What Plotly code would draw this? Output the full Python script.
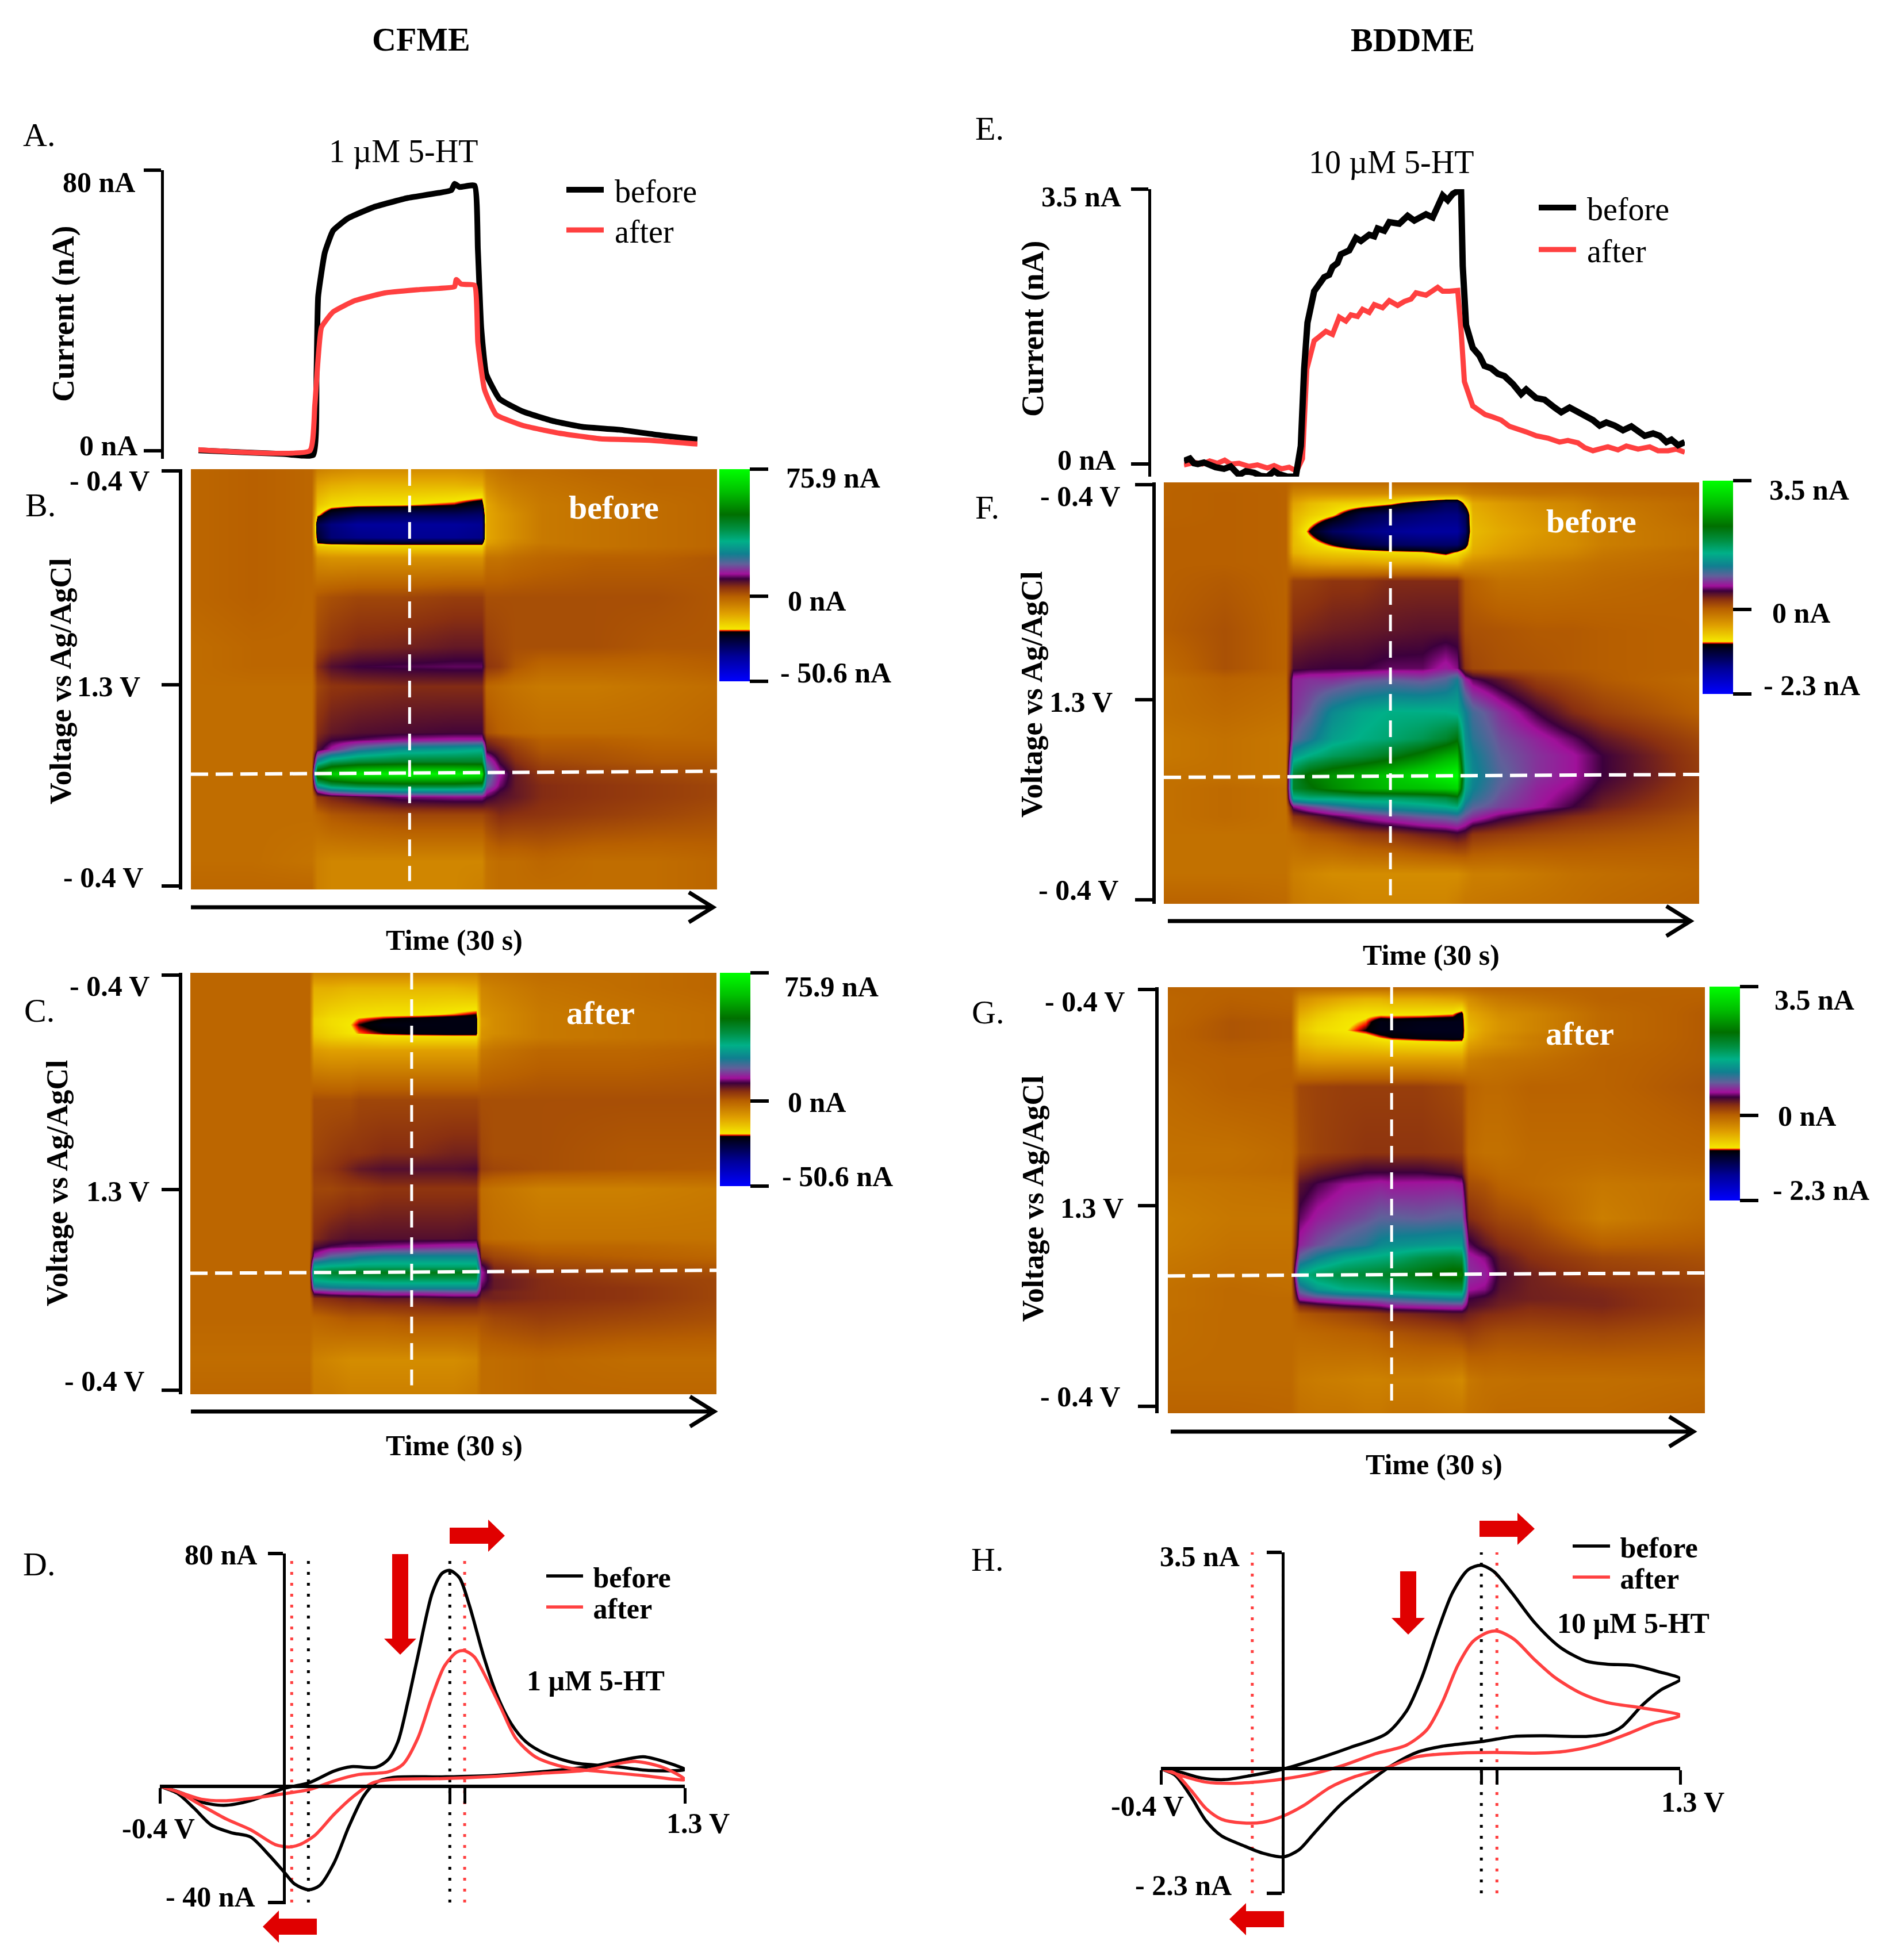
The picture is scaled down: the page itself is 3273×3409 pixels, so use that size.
import plotly.graph_objects as go

W = 3273
H = 3409
PAGE_MARGIN = 8  # the browser's default body margin moves the figure by this much
SERIF = "Liberation Serif"
RED = "#ff4040"
ARROW_RED = "#e00000"

# colour table of the false colour plots, black to green through orange
cv_colors = [
    [0.0, "#0000ff"], [0.118, "#000098"], [0.21, "#000024"], [0.233, "#000000"],
    [0.239, "#ff1000"], [0.245, "#f5e800"], [0.32, "#e0a000"], [0.4, "#b86000"],
    [0.444, "#8a3010"], [0.483, "#3c003c"], [0.506, "#a0109a"], [0.553, "#60609a"],
    [0.6, "#107f90"], [0.66, "#00b088"], [0.72, "#008f40"], [0.786, "#006f00"],
    [0.894, "#00c000"], [1.0, "#00ff00"],
]

# A. CFME current vs time
a_time_before = [0, 2.5, 5.1, 6.9, 7.1, 7.2, 7.6, 8.1, 9.0, 10.5, 12.6, 15.2, 15.4, 15.7, 16.6, 16.8, 17.0, 17.3, 18.1, 19.5, 21.3, 23.1, 25.3, 27.8, 30]
a_before = [0.1, -0.4, -0.9, -1.2, 21.9, 44, 56.5, 62.8, 66.3, 69.4, 72.1, 74.3, 76.1, 75.2, 75.6, 57.4, 35.2, 21.9, 14.8, 11.2, 8.5, 6.8, 6, 4.4, 3.2]
a_time_after = [0, 6.7, 7.0, 7.4, 8.1, 9.4, 11.2, 13.4, 15.4, 15.5, 15.8, 16.6, 16.8, 17.2, 17.9, 19.5, 21.7, 24.2, 27.1, 30]
a_after = [0.3, 0, 13, 35.2, 39.6, 42.8, 45, 46, 46.8, 48.8, 47.5, 47.2, 30.8, 17.4, 10.3, 7.2, 5, 3.4, 3, 1.9]

# E. BDDME current vs time
e_time_before = [0, 0.36, 0.6, 0.83, 1.2, 1.5, 1.9, 2.4, 2.8, 3.3, 3.7, 4.2, 4.6, 5, 5.4, 5.7, 6.2, 6.7, 7.0, 7.2, 7.4, 7.8, 8.4, 8.7, 8.9, 9.2, 9.4, 9.9, 10.3, 10.6, 11.1, 11.4, 11.6, 12.0, 12.3, 12.9, 13.4, 13.8, 14.5, 14.9, 15.2, 15.5, 15.8, 16.1, 16.6, 16.7, 16.9, 17.3, 17.7, 18, 18.4, 18.8, 19.2, 19.7, 20.2, 20.5, 21.1, 21.6, 22.2, 22.6, 23.1, 23.6, 24, 24.5, 24.9, 25.3, 25.8, 26.3, 26.8, 27.2, 27.6, 28.1, 28.5, 28.9, 29.2, 29.6, 30]
e_before = [0.04, 0.07, 0.01, 0.0, 0.02, -0.01, -0.04, -0.06, -0.03, -0.14, -0.09, -0.11, -0.15, -0.16, -0.09, -0.13, -0.16, -0.16, 0.23, 1.21, 1.8, 2.2, 2.38, 2.41, 2.51, 2.56, 2.67, 2.72, 2.88, 2.84, 2.92, 2.9, 3.0, 2.97, 3.08, 3.06, 3.16, 3.1, 3.18, 3.14, 3.28, 3.42, 3.36, 3.44, 3.5, 2.52, 1.77, 1.48, 1.38, 1.25, 1.22, 1.15, 1.12, 1.02, 0.89, 0.95, 0.84, 0.82, 0.72, 0.66, 0.72, 0.66, 0.63, 0.56, 0.49, 0.53, 0.49, 0.43, 0.48, 0.41, 0.36, 0.39, 0.36, 0.28, 0.31, 0.24, 0.28]
e_time_after = [0, 0.65, 1.1, 1.54, 2.0, 2.44, 2.8, 3.3, 3.9, 4.4, 5, 5.4, 5.85, 6.3, 6.75, 7.1, 7.36, 7.8, 8.5, 8.9, 9.3, 9.7, 10, 10.4, 10.7, 11.1, 11.4, 11.9, 12.3, 12.8, 13.2, 13.6, 13.9, 14.5, 15.2, 15.5, 15.9, 16.4, 16.6, 16.8, 17.3, 17.7, 18.05, 18.5, 19, 19.5, 20, 20.5, 21.1, 21.8, 22.5, 23, 23.6, 24, 24.5, 25, 25.4, 26, 26.5, 27.2, 27.9, 28.4, 29, 29.5, 30]
e_after = [-0.01, 0.02, 0.0, 0.04, 0.01, 0.05, 0.0, 0.01, -0.03, -0.01, -0.05, -0.02, -0.06, -0.04, -0.09, 0.07, 1.21, 1.57, 1.69, 1.65, 1.87, 1.82, 1.9, 1.88, 1.97, 1.93, 2.03, 1.99, 2.08, 2.02, 2.07, 2.1, 2.18, 2.15, 2.25, 2.2, 2.2, 2.21, 1.71, 1.05, 0.74, 0.68, 0.63, 0.6, 0.56, 0.48, 0.45, 0.41, 0.36, 0.33, 0.28, 0.3, 0.27, 0.21, 0.17, 0.2, 0.22, 0.18, 0.23, 0.19, 0.22, 0.17, 0.17, 0.19, 0.15]

# false colour plots: rows are time into the 8.5 ms scan, columns are seconds
b_scan = [0, 0.32, 0.72, 0.92, 1.12, 1.38, 1.49, 1.56, 1.79, 2.59, 3.59, 3.99, 4.39, 5.32, 5.46, 5.66, 5.92, 6.16, 6.39, 6.52, 6.63, 6.99, 7.93, 8.5]
b_time = [0, 3.5, 6.9, 7.2, 8, 9.5, 12, 15, 16.6, 16.85, 17.6, 18.5, 20, 23, 26.5, 30]
b_current = [
    [-1, 0, -1, -5, -6, -7, -7, -7, -6, -4, -3, -2, -2, -1, -1, -1],
    [-1, 0, -1, -10, -12, -13, -13, -13, -12, -7, -5, -4, -3, -2, -1, -1],
    [-1, 0, -1, -15, -18, -19, -19.5, -21, -24, -11, -8, -6, -4, -3, -2, -1],
    [-1, 0, -1, -19, -25, -29, -30, -30, -31, -11, -9, -7, -4, -3, -2, -1],
    [-1, 0, -1, -28, -33, -36, -36, -36, -35, -11, -9, -7, -4, -3, -2, -1],
    [-1, 0, -1, -25, -32, -34, -35, -35, -34, -11, -9, -7, -4, -3, -2, -1],
    [-1, 0, -1, -21, -23, -23, -24, -24, -24, -10, -8, -6, -4, -3, -2, -1],
    [-1, 0, -1, -15, -16, -17, -17, -17, -17, -8, -7, -5, -3, -3, -2, -1],
    [-1, 0, -1, -7, -8, -8, -8, -8, -8, -3, -3, -2, -1, 0, 0, 1],
    [-1, 0, -1, 1, 2, 3, 3, 4, 4, 2, 2, 2, 2, 2, 2, 1],
    [-2, -1, -1, 3, 5, 6.5, 7, 8, 8, 4, 3, 2, 2, 2, 1, 1],
    [-2, -1, -1, 6, 9, 10.5, 11, 11.5, 11.5, 5, 4, 1, -1, -1, -1, 0],
    [-2, -2, -2, 3, 5, 5.5, 6, 6, 6, -1, -2, -3, -4, -4, -3, -2],
    [-2, -2, -2, 6, 8, 9, 9.5, 10, 10, 2, 0, -1, -2, -2, -2, -1],
    [-2, -2, -2, 7, 10, 11, 13, 14, 14, 6, 4, 2, 0, 0, -1, -1],
    [-2, -2, -2, 9, 14, 22, 28, 30, 32, 9, 7, 4, 1, 1, 0, 0],
    [-2, -2, -2, 28, 38, 42, 44, 44, 44, 18, 10, 6, 3, 2, 1, 1],
    [-2, -2, -2, 58, 66, 72, 74, 74, 72, 24, 14, 8, 5, 4, 3, 2],
    [-2, -2, -2, 30, 38, 42, 44, 44, 42, 20, 12, 8, 6, 5, 4, 3],
    [-2, -2, -2, 13, 20, 24, 26, 26, 25, 14, 10, 8, 6, 5, 4, 3],
    [-2, -2, -2, 5, 7, 9, 12, 13, 13, 11, 9, 8, 6, 5, 4, 3],
    [-2, -2, -2, -1, 1, 2, 3, 3, 3, 4, 6, 5.5, 5, 4, 3, 2],
    [-2, -2, -3, -5, -6, -6, -6, -6, -6, -3, -2, -2, -1, -2, -2, -1],
    [-1, -1, -1, -5, -6, -6, -6, -6, -5, -3, -2, -2, -2, -2, -2, -1],
]

c_scan = [0, 0.3, 0.83, 0.93, 1.04, 1.22, 1.3, 1.56, 2.56, 3.63, 3.96, 4.36, 5.36, 5.52, 5.72, 5.92, 6.04, 6.19, 6.36, 6.44, 6.56, 6.96, 7.82, 8.5]
c_time = [0, 3.5, 6.8, 7.05, 8, 9.1, 9.6, 11, 13, 15, 16.3, 16.6, 17.3, 20, 25, 30]
c_current = [
    [-1, -1, -1, -6, -6, -6, -6, -6, -6, -6, -6, -3, -3, -2, -2, -1],
    [-1, -1, -1, -12, -12, -13, -13, -13, -13, -13, -12, -6, -5, -3, -2, -1],
    [-1, -1, -1, -15, -17, -18, -18.5, -19, -19, -20, -21, -8, -7, -4, -3, -2],
    [-1, -1, -1, -16, -18, -19, -20, -21, -22, -22.5, -22.5, -9, -7, -4, -3, -2],
    [-1, -1, -1, -16, -18, -19.6, -21, -22.5, -22.5, -22.5, -22.5, -9, -7, -4, -3, -2],
    [-1, -1, -1, -15, -17, -19, -20, -21, -22, -22.5, -22.5, -8, -7, -4, -3, -2],
    [-1, -1, -1, -14, -16, -17, -17, -18, -18, -18, -18, -8, -6, -4, -3, -2],
    [-1, -1, -1, -9, -10, -10, -10, -10, -10, -10, -10, -4, -3, -1, -1, 0],
    [-1, -1, -1, 2, 2, 2, 3, 3, 3, 3, 3, 2, 2, 2, 2, 2],
    [-1, -1, -1, 3, 4, 5, 5, 6, 6, 7, 7, 3, 2, 2, 1, 1],
    [-1, -1, -1, 4, 5, 7, 8, 9, 9, 9, 9.5, 4, 3, 2, 1, 0.5],
    [-1, -1, -1, 3, 3, 4, 4, 5, 5, 5, 5, -2, -3, -5, -5, -4],
    [-1, -1, -1, 6, 8, 9, 9, 9, 9, 9, 9.5, -1, -2, -3, -3, -3],
    [-1, -1, -1, 9, 11, 12, 12, 13, 14, 15, 15, 2, 1, -1, -1, -2],
    [-1, -1, -1, 14, 20, 22, 24, 26, 26, 26, 26, 5, 3, 1, 0, -1],
    [-1, -1, -1, 32, 34, 35, 36, 36, 36, 36, 36, 12, 6, 3, 2, 1],
    [-1, -1, -1, 40, 43, 45, 45, 46, 46, 46, 46, 14, 7, 5, 3, 2],
    [-1, -1, -1, 33, 35, 36, 36, 37, 37, 37, 37, 13, 8, 6, 4, 3],
    [-1, -1, -1, 22, 24, 25, 25, 26, 26, 26, 26, 11, 8, 6, 5, 3],
    [-1, -1, -1, 13, 15, 16, 16, 17, 17, 18, 18, 9, 7, 6, 5, 3],
    [-1, -1, -1, 5, 6, 7, 7, 8, 8, 9, 9, 7, 7, 6, 5, 3],
    [-1, -1, -1, -1, 0, 1, 1, 1, 2, 2, 2, 2, 3, 4, 3, 2],
    [-2, -2, -2, -5, -6, -7, -7, -7, -7, -7, -6, -2, -2, -1, -2, -2],
    [-1, -1, -1, -4, -4, -5, -5, -5, -5, -5, -4, -2, -2, -1, -1, -1],
]

f_scan = [0, 0.22, 0.42, 0.65, 0.98, 1.25, 1.42, 1.62, 1.98, 2.98, 3.74, 3.98, 4.64, 5.17, 5.51, 5.91, 6.17, 6.37, 6.54, 6.74, 7.1, 7.9, 8.5]
f_time = [0, 3.4, 6.82, 7.26, 8.16, 9.44, 11.1, 12.7, 14.5, 15.8, 16.43, 16.9, 17.3, 18.85, 20.9, 22.9, 24.6, 30]
f_current = [
    [0, 0, 0, -0.05, -0.05, -0.05, -0.05, -0.05, -0.05, -0.05, -0.05, -0.05, -0.03, -0.02, -0.02, 0, 0, 0],
    [0, 0.02, 0, -0.25, -0.3, -0.3, -0.3, -0.3, -0.3, -0.3, -0.3, -0.25, -0.2, -0.15, -0.1, -0.1, -0.05, 0],
    [0, 0.02, 0, -0.45, -0.6, -0.7, -0.75, -0.85, -1.1, -1.3, -1.3, -0.8, -0.5, -0.4, -0.3, -0.25, -0.15, -0.05],
    [0, 0.02, 0, -0.55, -0.7, -0.85, -1.2, -1.35, -1.45, -1.5, -1.5, -1.3, -0.55, -0.45, -0.35, -0.3, -0.2, -0.05],
    [0.02, 0.02, 0, -0.6, -0.95, -1.35, -1.5, -1.6, -1.65, -1.65, -1.65, -1.4, -0.6, -0.5, -0.4, -0.3, -0.2, -0.1],
    [0.02, 0.02, 0, -0.6, -0.75, -0.95, -1.2, -1.35, -1.4, -1.4, -1.4, -1.1, -0.55, -0.45, -0.35, -0.3, -0.2, -0.1],
    [0.02, 0.02, 0, -0.55, -0.65, -0.7, -0.75, -0.8, -0.85, -1.0, -0.85, -0.7, -0.5, -0.4, -0.3, -0.25, -0.15, -0.05],
    [0.02, 0.02, 0, -0.3, -0.4, -0.45, -0.45, -0.5, -0.5, -0.55, -0.55, -0.35, -0.3, -0.25, -0.2, -0.15, -0.1, -0.05],
    [0.02, 0.05, 0, 0.18, 0.2, 0.25, 0.25, 0.3, 0.3, 0.3, 0.3, 0.05, 0, -0.1, -0.1, -0.08, -0.05, 0],
    [0.03, 0.1, 0, 0.3, 0.33, 0.36, 0.38, 0.4, 0.42, 0.42, 0.42, 0.12, 0.1, 0.08, 0.05, 0.05, 0.03, 0],
    [-0.05, 0.1, 0, 0.45, 0.48, 0.5, 0.5, 0.55, 0.55, 0.68, 0.6, 0.25, 0.15, 0.1, 0.08, 0.05, 0.03, 0],
    [-0.1, 0, -0.05, 0.7, 0.75, 0.75, 0.85, 0.9, 0.85, 0.95, 1.15, 0.7, 0.55, 0.4, 0.2, 0.12, 0.05, -0.05],
    [-0.1, -0.05, -0.1, 0.75, 0.9, 1.25, 1.45, 1.55, 1.55, 1.55, 1.5, 1.2, 1.0, 0.75, 0.5, 0.3, 0.2, 0.02],
    [-0.15, -0.1, -0.15, 0.9, 1.1, 1.4, 1.55, 1.65, 1.8, 2.0, 2.2, 1.3, 1.1, 0.85, 0.7, 0.55, 0.4, 0.15],
    [-0.15, -0.1, -0.15, 1.35, 1.55, 1.75, 1.9, 2.1, 2.4, 2.7, 2.8, 1.4, 1.2, 0.9, 0.75, 0.65, 0.5, 0.2],
    [-0.1, -0.1, -0.15, 2.0, 2.35, 2.55, 2.75, 2.95, 3.2, 3.4, 3.5, 1.55, 1.25, 0.95, 0.75, 0.65, 0.5, 0.22],
    [-0.1, -0.05, -0.1, 2.0, 2.2, 2.45, 2.7, 2.85, 2.9, 3.0, 3.1, 1.45, 1.2, 0.9, 0.7, 0.6, 0.45, 0.2],
    [-0.1, -0.05, -0.1, 1.5, 1.6, 1.6, 1.7, 1.7, 1.8, 1.9, 2.1, 1.3, 1.1, 0.85, 0.68, 0.55, 0.4, 0.18],
    [-0.1, -0.05, -0.1, 0.6, 0.8, 1.0, 1.2, 1.3, 1.4, 1.5, 1.6, 1.1, 0.95, 0.8, 0.65, 0.5, 0.35, 0.15],
    [-0.1, -0.05, -0.1, 0.25, 0.35, 0.5, 0.65, 0.78, 0.9, 0.95, 1.0, 0.85, 0.75, 0.55, 0.4, 0.3, 0.25, 0.1],
    [-0.1, -0.1, -0.1, -0.05, 0.05, 0.1, 0.2, 0.25, 0.35, 0.4, 0.45, 0.4, 0.25, 0.2, 0.15, 0.12, 0.1, 0.05],
    [-0.1, -0.1, -0.1, -0.2, -0.25, -0.3, -0.3, -0.3, -0.3, -0.3, -0.3, -0.25, -0.2, -0.2, -0.15, -0.1, -0.08, -0.03],
    [0, 0, -0.05, -0.15, -0.2, -0.2, -0.25, -0.25, -0.25, -0.25, -0.2, -0.15, -0.15, -0.12, -0.1, -0.08, -0.05, 0],
]

g_scan = [0, 0.23, 0.53, 0.69, 0.86, 1.0, 1.12, 1.45, 1.98, 3.29, 3.69, 3.92, 4.61, 5.14, 5.4, 5.73, 6.02, 6.22, 6.35, 6.52, 6.91, 7.84, 8.5]
g_time = [0, 3.5, 6.86, 7.36, 8.36, 9.87, 11.04, 11.87, 12.54, 14.2, 15.9, 16.4, 16.8, 17.7, 18.56, 20.2, 24.25, 30]
g_current = [
    [0, 0, 0, -0.02, -0.02, -0.02, -0.02, -0.02, -0.02, -0.02, -0.02, -0.02, -0.02, 0, 0, 0, 0, 0],
    [-0.02, 0.02, 0, -0.3, -0.4, -0.5, -0.55, -0.55, -0.5, -0.5, -0.45, -0.4, -0.3, -0.2, -0.15, -0.1, 0, 0.02],
    [-0.02, 0.05, 0.03, -0.5, -0.65, -0.8, -0.85, -0.85, -0.85, -0.85, -0.88, -1.0, -0.5, -0.4, -0.3, -0.25, -0.05, 0.05],
    [-0.02, 0.08, 0.05, -0.6, -0.75, -0.85, -0.9, -1.02, -1.0, -1.03, -1.04, -1.04, -0.55, -0.45, -0.35, -0.25, -0.05, 0.05],
    [0, 0.08, 0.05, -0.65, -0.8, -0.87, -0.95, -1.03, -1.02, -1.05, -1.05, -1.05, -0.6, -0.45, -0.35, -0.25, -0.05, 0.05],
    [0, 0.08, 0.05, -0.6, -0.7, -0.78, -0.82, -0.9, -0.95, -1.0, -1.02, -1.03, -0.55, -0.4, -0.3, -0.2, -0.05, 0.05],
    [0, 0.05, 0.03, -0.55, -0.65, -0.7, -0.72, -0.75, -0.78, -0.8, -0.82, -0.8, -0.45, -0.35, -0.3, -0.2, -0.03, 0.05],
    [0, 0.02, 0.02, -0.35, -0.4, -0.4, -0.4, -0.4, -0.4, -0.4, -0.4, -0.4, -0.2, -0.15, -0.12, -0.1, 0, 0.05],
    [-0.05, 0.02, 0.03, 0.15, 0.18, 0.2, 0.2, 0.2, 0.2, 0.2, 0.15, 0.12, 0, -0.05, -0.05, 0, 0, 0.08],
    [-0.1, -0.1, -0.05, 0.12, 0.18, 0.22, 0.25, 0.25, 0.25, 0.25, 0.22, 0.2, -0.05, -0.1, -0.1, -0.05, -0.05, 0],
    [-0.1, -0.08, -0.05, 0.3, 0.38, 0.45, 0.5, 0.5, 0.5, 0.5, 0.45, 0.4, 0.05, 0, -0.05, -0.05, -0.1, -0.05],
    [-0.15, -0.12, -0.1, 0.42, 0.52, 0.62, 0.65, 0.68, 0.65, 0.66, 0.68, 0.65, 0.12, 0.08, 0, -0.05, -0.15, -0.1],
    [-0.2, -0.15, -0.15, 0.55, 0.68, 0.78, 0.85, 0.92, 0.92, 0.9, 0.95, 0.95, 0.3, 0.22, 0.15, 0.1, -0.2, -0.05],
    [-0.18, -0.12, -0.12, 0.7, 0.85, 1.0, 1.1, 1.25, 1.3, 1.35, 1.4, 1.4, 0.55, 0.4, 0.3, 0.22, 0.02, 0.05],
    [-0.15, -0.1, -0.1, 0.95, 1.2, 1.45, 1.55, 1.6, 1.65, 1.85, 1.95, 1.9, 0.7, 0.6, 0.4, 0.28, 0.15, 0.1],
    [-0.12, -0.08, -0.1, 1.5, 1.75, 1.9, 1.95, 2.0, 2.05, 2.2, 2.4, 2.4, 0.75, 0.7, 0.45, 0.35, 0.22, 0.15],
    [-0.1, -0.05, -0.08, 1.0, 1.35, 1.55, 1.6, 1.65, 1.7, 1.8, 1.85, 1.85, 0.65, 0.6, 0.42, 0.35, 0.3, 0.2],
    [-0.1, -0.05, -0.05, 0.65, 0.75, 0.85, 0.9, 0.95, 1.0, 1.1, 1.2, 1.2, 0.5, 0.45, 0.38, 0.35, 0.32, 0.2],
    [-0.1, -0.05, -0.05, 0.3, 0.4, 0.5, 0.55, 0.6, 0.68, 0.72, 0.75, 0.75, 0.45, 0.4, 0.35, 0.3, 0.32, 0.2],
    [-0.08, -0.05, -0.05, 0.05, 0.1, 0.15, 0.2, 0.25, 0.3, 0.35, 0.4, 0.4, 0.35, 0.3, 0.28, 0.25, 0.28, 0.18],
    [-0.08, -0.05, -0.05, -0.05, -0.03, 0, 0.02, 0.05, 0.08, 0.12, 0.15, 0.18, 0.2, 0.15, 0.12, 0.12, 0.15, 0.1],
    [-0.05, -0.05, -0.05, -0.15, -0.18, -0.2, -0.22, -0.22, -0.2, -0.2, -0.25, -0.28, -0.15, -0.1, -0.1, -0.08, -0.08, -0.05],
    [0, 0, -0.02, -0.1, -0.12, -0.12, -0.15, -0.15, -0.12, -0.12, -0.15, -0.15, -0.1, -0.08, -0.05, -0.05, -0.05, 0],
]

# D. CFME voltammograms
d_volt_before = [-0.4, -0.328, -0.265, -0.193, -0.106, 0.002, 0.085, 0.164, 0.22, 0.3, 0.339, 0.371, 0.403, 0.435, 0.482, 0.514, 0.538, 0.57, 0.602, 0.649, 0.689, 0.737, 0.785, 0.848, 0.944, 1.071, 1.182, 1.3, 1.246, 1.166, 1.103, 1.007, 0.832, 0.673, 0.514, 0.355, 0.3, 0.26, 0.212, 0.164, 0.117, 0.082, 0.037, 0.002, -0.05, -0.106, -0.169, -0.233, -0.289, -0.344, -0.4]
d_before = [0, -2.4, -5.5, -6.6, -5.0, -0.8, 1.25, 5.2, 6.7, 6.5, 9.1, 15.3, 28.9, 44.5, 66.4, 73.2, 74.2, 71.7, 62.3, 44.5, 32, 21.6, 15.3, 11.2, 8, 6.8, 5.4, 5.7, 8, 10.1, 9.1, 7, 4.9, 3.65, 3.2, 3, 1.25, -3.4, -13.9, -26.4, -34.2, -35.6, -33.7, -29.5, -23.3, -17.5, -16, -13.4, -7.6, -2.4, 0]
d_volt_after = [-0.4, -0.328, -0.265, -0.185, -0.09, 0.002, 0.085, 0.164, 0.244, 0.339, 0.387, 0.435, 0.482, 0.522, 0.562, 0.586, 0.618, 0.657, 0.705, 0.753, 0.816, 0.912, 1.039, 1.166, 1.3, 1.23, 1.142, 1.071, 0.975, 0.832, 0.673, 0.514, 0.355, 0.292, 0.228, 0.164, 0.101, 0.053, 0.021, -0.026, -0.106, -0.185, -0.265, -0.344, -0.4]
d_after = [0, -2.4, -4.5, -5, -4, -2.6, -1.15, 1.8, 4, 4.9, 7.5, 16.4, 31, 41.4, 46.1, 46.6, 44.5, 37.2, 26.8, 16.4, 10.1, 6.5, 4.9, 3.65, 2.3, 6.4, 8.5, 7.5, 5.4, 4.4, 3.3, 2.6, 2.3, 1.25, -3.4, -9.7, -17, -20.1, -20.9, -20.1, -15, -11.3, -6.6, -1.9, 0]

# H. BDDME voltammograms
h_volt_before = [-0.4, -0.336, -0.269, -0.193, -0.101, 0, 0.101, 0.219, 0.337, 0.404, 0.454, 0.505, 0.555, 0.606, 0.648, 0.69, 0.748, 0.824, 0.908, 0.992, 1.06, 1.144, 1.228, 1.3, 1.236, 1.177, 1.11, 1.06, 0.992, 0.858, 0.757, 0.656, 0.521, 0.437, 0.353, 0.269, 0.185, 0.101, 0.051, 0, -0.067, -0.134, -0.202, -0.252, -0.302, -0.353, -0.4]
h_before = [0, -0.06, -0.15, -0.18, -0.11, -0.01, 0.14, 0.34, 0.56, 0.93, 1.47, 2.21, 2.85, 3.22, 3.29, 3.19, 2.85, 2.36, 1.96, 1.74, 1.69, 1.67, 1.57, 1.45, 1.27, 1.03, 0.68, 0.56, 0.52, 0.53, 0.52, 0.44, 0.36, 0.26, 0.04, -0.26, -0.6, -1.05, -1.32, -1.43, -1.37, -1.24, -1.09, -0.85, -0.45, -0.11, 0]
h_volt_after = [-0.4, -0.336, -0.252, -0.168, -0.067, 0, 0.101, 0.202, 0.303, 0.404, 0.471, 0.521, 0.572, 0.622, 0.673, 0.706, 0.757, 0.824, 0.891, 0.975, 1.06, 1.177, 1.3, 1.211, 1.127, 1.026, 0.925, 0.824, 0.69, 0.572, 0.437, 0.337, 0.236, 0.152, 0.067, 0, -0.067, -0.134, -0.202, -0.252, -0.302, -0.353, -0.4]
h_after = [0, -0.11, -0.22, -0.24, -0.21, -0.17, -0.08, 0.06, 0.24, 0.38, 0.63, 1.07, 1.67, 2.06, 2.21, 2.22, 2.09, 1.76, 1.47, 1.22, 1.07, 0.98, 0.86, 0.73, 0.56, 0.38, 0.28, 0.25, 0.26, 0.25, 0.19, 0.01, -0.13, -0.31, -0.6, -0.77, -0.87, -0.88, -0.82, -0.65, -0.35, -0.08, 0]

# peak potentials marked with dotted lines
d_peaks_before = [0.081, 0.539]
d_peaks_after = [0.027, 0.587]
h_peaks_before = [0, 0.649]
h_peaks_after = [-0.101, 0.7]


def fx(px):
    return (px - PAGE_MARGIN) / W


def fy(py):
    return 1 - (py - PAGE_MARGIN) / H


def xdom(left, right):
    return [fx(left), fx(right)]


def ydom(top, bottom):
    return [fy(bottom), fy(top)]


fig = go.Figure()
annotations = []
shapes = []


def label(text, x, y, size, bold=True, color="black", angle=0, anchor="center"):
    annotations.append(dict(
        text=text, x=fx(x), y=fy(y), xref="paper", yref="paper", showarrow=False,
        xanchor=anchor, yanchor="middle", textangle=angle,
        font=dict(family=SERIF, size=size, color=color, weight="bold" if bold else "normal"),
    ))


def set_axes(n, xd, yd, xr, yr, xpos=None, ypos=None, **yopts):
    suffix = "" if n == 1 else str(n)
    xax = dict(domain=xd, range=xr, showgrid=False, zeroline=False, visible=False)
    if ypos is not None:
        xax.update(visible=True, anchor="free", position=fy(ypos), showline=True, linecolor="black")
    # the labels sit off their ticks in the figure, so they are placed with label()
    yax = dict(domain=yd, range=yr, showgrid=False, zeroline=False, anchor="free", position=fx(xpos),
               showline=True, linecolor="black", linewidth=6, ticks="outside", tickcolor="black",
               tickwidth=6, ticklen=30, tickmode="array", showticklabels=False)
    yax.update(yopts)
    fig.layout["xaxis" + suffix] = xax
    fig.layout["yaxis" + suffix] = yax
    return "x" + suffix, "y" + suffix


def legend_line(name, x, y, size, bold, width):
    fig.layout[name] = dict(
        x=fx(x), y=fy(y), xanchor="left", yanchor="middle", bgcolor="rgba(0,0,0,0)",
        itemwidth=width, font=dict(family=SERIF, size=size, color="black", weight="bold" if bold else "normal"),
    )


def false_colour(n, time, scan, current, zmin, zmax, box, bar, bar_ticks, axis_x, scan_ticks,
                 cross_t, cross_end, cross_scan):
    left, right, top, bottom = box
    xa, ya = set_axes(n, xdom(left, right), ydom(top, bottom), [0, 30], [8.5, 0], xpos=axis_x, tickvals=scan_ticks)
    fig.add_trace(go.Heatmap(
        x=time, y=scan, z=current, xaxis=xa, yaxis=ya, zmin=zmin, zmax=zmax, colorscale=cv_colors, zsmooth="best",
        hoverinfo="skip",
        colorbar=dict(
            x=fx(bar[0]), xanchor="left", xpad=0, y=fy(bar[1]), yanchor="top", ypad=0, len=(bar[2] - bar[1]) / H,
            thickness=53, outlinewidth=0, ticks="outside", ticklen=32, tickwidth=6, tickcolor="black",
            tickmode="array", tickvals=bar_ticks, showticklabels=False,
        ),
    ))
    fig.add_trace(go.Scatter(
        x=[cross_t, cross_t], y=[0, cross_end], xaxis=xa, yaxis=ya, mode="lines", showlegend=False,
        line=dict(color="white", width=5, dash="29px,17px"),
    ))
    fig.add_trace(go.Scatter(
        x=[0, 30], y=cross_scan, xaxis=xa, yaxis=ya, mode="lines", showlegend=False,
        line=dict(color="white", width=6, dash="30px,13px"),
    ))


def time_arrow(x0, x1, y):
    shapes.append(dict(
        type="path", xref="paper", yref="paper", line=dict(color="black", width=7),
        path=f"M {fx(x0)} {fy(y)} L {fx(x1)} {fy(y)} M {fx(x1 - 42)} {fy(y - 26)} L {fx(x1)} {fy(y)} L {fx(x1 - 42)} {fy(y + 26)}",
    ))


def block_arrow(points):
    path = "M " + " L ".join(f"{fx(a)} {fy(b)}" for a, b in points) + " Z"
    shapes.append(dict(type="path", xref="paper", yref="paper", path=path, fillcolor=ARROW_RED,
                       line=dict(width=0), layer="above"))


def horizontal_block(x0, x1, xtip, yc, half, head):
    block_arrow([(x0, yc - half), (x1, yc - half), (x1, yc - head), (xtip, yc), (x1, yc + head), (x1, yc + half), (x0, yc + half)])


def down_block(xc, y0, y1, ytip, half, head):
    block_arrow([(xc - half, y0), (xc + half, y0), (xc + half, y1), (xc + head, y1), (xc, ytip), (xc - head, y1), (xc - half, y1)])


# current traces A and E
xa, ya = set_axes(1, xdom(345, 1213), ydom(296, 798), [0, 30], [-2.3, 80], xpos=282, tickvals=[0, 80], linewidth=5)
fig.add_trace(go.Scatter(x=a_time_before, y=a_before, xaxis=xa, yaxis=ya, name="\u00a0before", mode="lines", legend="legend",
                         cliponaxis=False, line=dict(color="black", width=10, shape="spline", smoothing=0.4)))
fig.add_trace(go.Scatter(x=a_time_after, y=a_after, xaxis=xa, yaxis=ya, name="\u00a0after", mode="lines", legend="legend2",
                         cliponaxis=False, line=dict(color=RED, width=9, shape="spline", smoothing=0.4)))
legend_line("legend", 980, 330, 56, False, 65)
legend_line("legend2", 980, 400, 56, False, 65)

xa, ya = set_axes(2, xdom(2059, 2930), ydom(329, 829), [0, 30], [-0.16, 3.5], xpos=1999, tickvals=[0, 3.5], linewidth=5)
fig.add_trace(go.Scatter(x=e_time_after, y=e_after, xaxis=xa, yaxis=ya, name="\u00a0after", mode="lines", legend="legend4",
                         cliponaxis=False, line=dict(color=RED, width=9)))
fig.add_trace(go.Scatter(x=e_time_before, y=e_before, xaxis=xa, yaxis=ya, name="\u00a0before", mode="lines", legend="legend3",
                         cliponaxis=False, line=dict(color="black", width=11)))
legend_line("legend3", 2671, 361, 56, False, 65)
legend_line("legend4", 2671, 434, 56, False, 65)

# false colour plots B, C, F, G
cfme_bar_ticks = [75.9, 0, -50.6]
cfme_bar_text = ["75.9 nA", "0 nA", "- 50.6 nA"]
bdd_bar_ticks = [3.5, 0, -2.3]
bdd_bar_text = ["3.5 nA", "0 nA", "- 2.3 nA"]
volt_text = ["- 0.4 V", "1.3 V", "- 0.4 V"]

false_colour(3, b_time, b_scan, b_current, -50.6, 75.9, (332, 1247, 816, 1547), (1251, 816, 1185),
             cfme_bar_ticks, 314, [0.03, 4.36, 8.43], 12.47, 8.33, [6.17, 6.11])
false_colour(4, c_time, c_scan, c_current, -50.6, 75.9, (331, 1246, 1692, 2425), (1252, 1692, 2063),
             cfme_bar_ticks, 314, [0.05, 4.37, 8.42], 12.62, 8.32, [6.06, 6.0])
false_colour(5, f_time, f_scan, f_current, -2.3, 3.5, (2024, 2955, 839, 1572), (2961, 836, 1207),
             bdd_bar_ticks, 2007, [0.05, 4.38, 8.42], 12.7, 8.33, [5.95, 5.89])
false_colour(6, g_time, g_scan, g_current, -2.3, 3.5, (2031, 2965, 1717, 2458), (2973, 1716, 2088),
             bdd_bar_ticks, 2012, [0.05, 4.36, 8.36], 12.5, 8.33, [5.76, 5.7])

# voltammograms D and H
xa, ya = set_axes(7, xdom(278, 1191), ydom(2702, 3312), [-0.4, 1.3], [-40.6, 80], xpos=494, ypos=3107,
                  tickvals=[-40, 80], ticklen=26, linewidth=5)
fig.layout.xaxis7.update(linewidth=6, ticks="outside", ticklen=27, tickwidth=5, tickcolor="black", tickmode="array",
                         tickvals=[-0.4, d_peaks_before[1], d_peaks_after[1], 1.3], showticklabels=False)
for v in d_peaks_before:
    fig.add_trace(go.Scatter(x=[v, v], y=[-40, 80], xaxis=xa, yaxis=ya, mode="lines", showlegend=False,
                             line=dict(color="black", width=5, dash="5px,14px")))
for v in d_peaks_after:
    fig.add_trace(go.Scatter(x=[v, v], y=[-40, 80], xaxis=xa, yaxis=ya, mode="lines", showlegend=False,
                             line=dict(color=RED, width=5, dash="5px,14px")))
fig.add_trace(go.Scatter(x=d_volt_before, y=d_before, xaxis=xa, yaxis=ya, name="\u00a0before", mode="lines", legend="legend5",
                         cliponaxis=False, line=dict(color="black", width=5.5, shape="spline", smoothing=0.8)))
fig.add_trace(go.Scatter(x=d_volt_after, y=d_after, xaxis=xa, yaxis=ya, name="\u00a0after", mode="lines", legend="legend6",
                         cliponaxis=False, line=dict(color=RED, width=5.5, shape="spline", smoothing=0.8)))
legend_line("legend5", 945, 2741, 50, True, 64)
legend_line("legend6", 945, 2795, 50, True, 64)

xa, ya = set_axes(8, xdom(2019, 2922), ydom(2700, 3293), [-0.4, 1.3], [-2.02, 3.5], xpos=2231, ypos=3076,
                  tickvals=[-2.02, 3.5], ticklen=26, linewidth=5)
fig.layout.xaxis8.update(linewidth=6, ticks="outside", ticklen=25, tickwidth=5, tickcolor="black", tickmode="array",
                         tickvals=[-0.4, h_peaks_before[1], h_peaks_after[1], 1.3], showticklabels=False)
for v in h_peaks_before:
    fig.add_trace(go.Scatter(x=[v, v], y=[-2.02, 3.5], xaxis=xa, yaxis=ya, mode="lines", showlegend=False,
                             line=dict(color="black", width=5, dash="5px,14px")))
for v in h_peaks_after:
    fig.add_trace(go.Scatter(x=[v, v], y=[-2.02, 3.5], xaxis=xa, yaxis=ya, mode="lines", showlegend=False,
                             line=dict(color=RED, width=5, dash="5px,14px")))
fig.add_trace(go.Scatter(x=h_volt_before, y=h_before, xaxis=xa, yaxis=ya, name="\u00a0before", mode="lines", legend="legend7",
                         cliponaxis=False, line=dict(color="black", width=5.5, shape="spline", smoothing=0.8)))
fig.add_trace(go.Scatter(x=h_volt_after, y=h_after, xaxis=xa, yaxis=ya, name="\u00a0after", mode="lines", legend="legend8",
                         cliponaxis=False, line=dict(color=RED, width=5.5, shape="spline", smoothing=0.8)))
legend_line("legend7", 2730, 2689, 50, True, 65)
legend_line("legend8", 2730, 2743, 50, True, 65)

# axis labels
for text, x, y in [("80 nA", 237, 317), ("0 nA", 241, 775), ("3.5 nA", 1952, 342), ("0 nA", 1942, 800),
                   ("80 nA", 449, 2704), ("- 40 nA", 446, 3299), ("3.5 nA", 2158, 2707), ("- 2.3 nA", 2144, 3279)]:
    label(text, x, y, 50, anchor="right")
volt_labels = [[(262, 836), (246, 1194), (251, 1526)], [(262, 1715), (262, 2072), (253, 2402)],
               [(1950, 863), (1937, 1221), (1947, 1548)], [(1958, 1742), (1956, 2101), (1950, 2429)]]
for panel in volt_labels:
    for text, (x, y) in zip(volt_text, panel):
        label(text, x, y, 50, anchor="right")
for text, x, y in [("-0.4 V", 275, 3180), ("1.3 V", 1214, 3171), ("-0.4 V", 1995, 3141), ("1.3 V", 2944, 3134)]:
    label(text, x, y, 50)

# colour bar labels
bar_labels = [(cfme_bar_text, [(1365, 831), (1368, 1045), (1355, 1170)]),
              (cfme_bar_text, [(1362, 1716), (1368, 1917), (1358, 2046)]),
              (bdd_bar_text, [(3075, 852), (3080, 1066), (3065, 1192)]),
              (bdd_bar_text, [(3084, 1739), (3090, 1941), (3081, 2070)])]
for texts, spots in bar_labels:
    for text, (x, y) in zip(texts, spots):
        label(text, x, y, 50, anchor="left")

# headings and panel letters
label("CFME", 732, 68, 58)
label("BDDME", 2457, 70, 58)
for letter, x, y in [("A.", 38, 234), ("B.", 42, 878), ("C.", 40, 1758), ("D.", 38, 2720),
                     ("E.", 1694, 224), ("F.", 1694, 883), ("G.", 1688, 1760), ("H.", 1687, 2712)]:
    label(letter, x, y, 58, bold=False, anchor="left")

label("1 µM 5-HT", 701, 263, 56, bold=False)
label("10 µM 5-HT", 2419, 282, 56, bold=False)
label("1 µM 5-HT", 1036, 2923, 50)
label("10 µM 5-HT", 2840, 2823, 50)

label("Current (nA)", 110, 546, 54, angle=-90)
label("Current (nA)", 1796, 572, 54, angle=-90)
for x, y in [(105, 1185), (99, 2058), (1794, 1208), (1796, 2085)]:
    label("Voltage vs Ag/AgCl", x, y, 52, angle=-90)
for x, y in [(790, 1635), (790, 2514), (2489, 1661), (2494, 2547)]:
    label("Time (30 s)", x, y, 50)

label("before", 1067, 883, 58, color="white")
label("after", 1044, 1762, 58, color="white")
label("before", 2767, 907, 58, color="white")
label("after", 2747, 1797, 58, color="white")

time_arrow(332, 1240, 1578)
time_arrow(332, 1242, 2455)
time_arrow(2031, 2940, 1602)
time_arrow(2036, 2945, 2490)

horizontal_block(782, 849, 878, 2671, 14, 28)
down_block(696, 2703, 2850, 2878, 14, 28)
horizontal_block(551, 485, 457, 3351, 14, 28)
horizontal_block(2573, 2639, 2669, 2659, 14, 28)
down_block(2449, 2733, 2814, 2843, 14, 29)
horizontal_block(2233, 2167, 2138, 3338, 14, 28)

fig.update_layout(
    width=W, height=H, margin=dict(l=0, r=0, t=0, b=0, autoexpand=False), paper_bgcolor="white",
    plot_bgcolor="rgba(0,0,0,0)", annotations=annotations, shapes=shapes, font=dict(family=SERIF),
)

fig.write_html("out.html")
